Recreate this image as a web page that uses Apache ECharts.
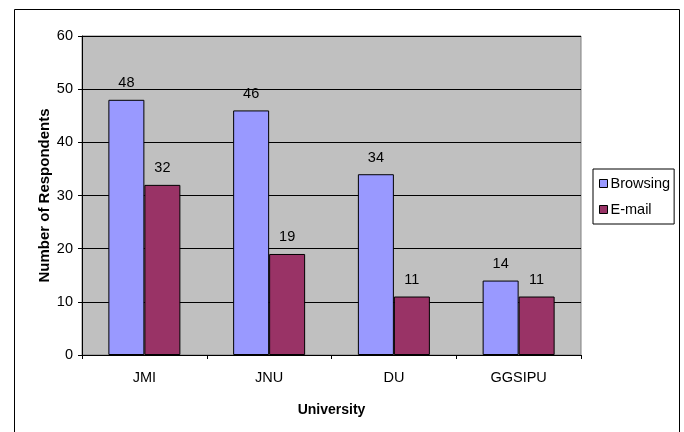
<!DOCTYPE html>
<html>
<head>
<meta charset="utf-8">
<script src="https://cdn.jsdelivr.net/npm/echarts@6/dist/echarts.min.js"></script>
<style>
  html, body { margin: 0; padding: 0; background: #fff; }
  #chart { width: 684px; height: 432px; }
</style>
</head>
<body>
<div id="chart"></div>
<script>
var universities = ['JMI', 'JNU', 'DU', 'GGSIPU'];
var browsing = [48, 46, 34, 14];
var email = [32, 19, 11, 11];

var chart = echarts.init(document.getElementById('chart'));
var labelStyle = {
    show: true,
    position: 'top',
    distance: 9,
    color: '#000',
    fontSize: 14.5
};
var option = {
    animation: false,
    textStyle: { fontFamily: 'Arial, "Liberation Sans", sans-serif' },
    graphic: [{
        type: 'rect',
        shape: { x: 14.5, y: 9.5, width: 665, height: 440 },
        style: { fill: 'none', stroke: '#000', lineWidth: 1 },
        silent: true
    }],
    grid: {
        left: 82, top: 36, width: 499, height: 319,
        show: true,
        backgroundColor: '#C0C0C0',
        borderColor: '#808080',
        borderWidth: 1
    },
    legend: {
        orient: 'vertical',
        left: 593, top: 169,
        padding: [7, 4, 7, 6],
        itemWidth: 8, itemHeight: 8,
        itemGap: 11,
        borderColor: '#000', borderWidth: 1,
        icon: 'rect',
        itemStyle: { borderColor: '#000', borderWidth: 1 },
        textStyle: { fontSize: 14.5, color: '#000', padding: [0, 0, 0, -2] },
        data: ['Browsing', 'E-mail']
    },
    xAxis: {
        type: 'category',
        data: universities,
        name: 'University',
        nameLocation: 'middle',
        nameGap: 48,
        nameTextStyle: { fontWeight: 'bold', fontSize: 14, color: '#000' },
        axisLine: { lineStyle: { color: '#000' } },
        axisTick: { show: true, length: 4, lineStyle: { color: '#000' } },
        axisLabel: { color: '#000', fontSize: 14.5, margin: 15 }
    },
    yAxis: {
        type: 'value',
        min: 0, max: 60, interval: 10,
        name: 'Number of Respondents',
        nameLocation: 'middle',
        nameGap: 30,
        nameMoveOverlap: false,
        nameTextStyle: { fontWeight: 'bold', fontSize: 15, color: '#000' },
        axisLine: { show: true, lineStyle: { color: '#000' } },
        axisTick: { show: true, length: 4, lineStyle: { color: '#000' } },
        axisLabel: { color: '#000', fontSize: 14.5, margin: 9 },
        splitLine: { lineStyle: { color: '#000', width: 1 } }
    },
    series: [
        {
            name: 'Browsing',
            type: 'bar',
            data: browsing,
            barWidth: 36,
            barGap: '0%',
            itemStyle: { color: '#9999FF', borderColor: '#000', borderWidth: 1 },
            label: labelStyle
        },
        {
            name: 'E-mail',
            type: 'bar',
            data: email,
            barWidth: 36,
            itemStyle: { color: '#993366', borderColor: '#000', borderWidth: 1 },
            label: labelStyle
        }
    ]
};
chart.setOption(option);
</script>
</body>
</html>
